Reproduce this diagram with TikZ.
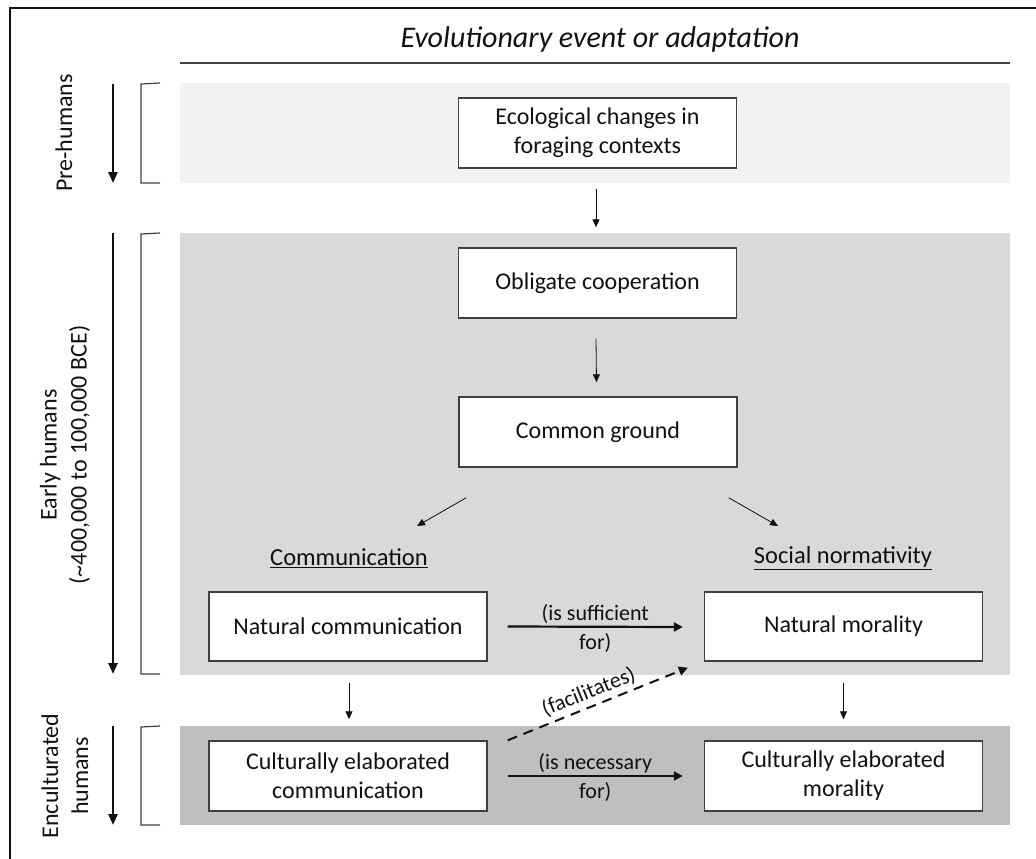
\documentclass[tikz,border=0pt]{standalone}
\usepackage{fontspec}
\setmainfont{Carlito}
\usetikzlibrary{arrows.meta}
\definecolor{bandA}{HTML}{F2F2F2}
\definecolor{bandB}{HTML}{D9D9D9}
\definecolor{bandC}{HTML}{BFBFBF}
\definecolor{edge}{HTML}{404040}
\definecolor{ink}{HTML}{111111}
\begin{document}
\begin{tikzpicture}[x=1pt,y=-1pt,
  box/.style={draw=edge, fill=white, line width=1.4pt, minimum width=278pt, minimum height=70pt,
    align=center, inner sep=0pt, text=ink, font=\fontsize{24}{29}\selectfont},
  headlbl/.style={inner sep=0pt, text=ink, font=\fontsize{24.5}{29}\selectfont},
  sidelbl/.style={inner sep=0pt, rotate=90, align=center, text=ink, font=\fontsize{24}{30}\selectfont},
  edgelbl/.style={inner sep=0pt, align=center, text=ink, font=\fontsize{22}{29}\selectfont},
  thinarr/.style={draw=ink, line width=0.8pt, -{Triangle[length=8pt,width=7pt]}},
  thickarr/.style={draw=ink, line width=2.2pt, -{Triangle[length=9pt,width=9pt]}},
  timearr/.style={draw=ink, line width=2.5pt, -{Triangle[length=11pt,width=9pt]}},
  dasharr/.style={draw=ink, line width=2pt, dash pattern=on 10pt off 7pt, -{Triangle[length=9pt,width=9pt]}},
  brack/.style={draw=edge, line width=1.2pt}
]
\useasboundingbox (0,0) rectangle (1036,859);
% outer frame
\draw[line width=1.5pt, ink] (10,859) -- (10,8) -- (1036,8);
% header
\node[inner sep=0pt, text=ink, font=\fontsize{30}{36}\selectfont\itshape] (head) at (600,40) {Evolutionary event or adaptation};
\draw[line width=2pt, edge] (180,63) -- (1010,63);
% bands
\fill[bandA] (180,83) rectangle (1010,183);
\fill[bandB] (180,233) rectangle (1010,675);
\fill[bandC] (180,726) rectangle (1010,825);
% left labels, arrows and brackets
\node[sidelbl] (pre) at (64,133) {Pre-humans};
\node[sidelbl] (early) at (65,455) {Early humans\\(\textasciitilde400,000 to 100,000 BCE)};
\node[sidelbl] (encult) at (65,776) {Enculturated\\humans};
\coordinate (preA) at (113,84);  \coordinate (preB) at (113,183);
\coordinate (earA) at (113,233); \coordinate (earB) at (113,674);
\coordinate (encA) at (113,726); \coordinate (encB) at (113,825);
\draw[timearr] (preA) -- (preB);
\draw[timearr] (earA) -- (earB);
\draw[timearr] (encA) -- (encB);
\draw[brack] (160,83) -- (141,84) -- (141,183) -- (160,183);
\draw[brack] (160,233) -- (141,234) -- (141,674) -- (160,674);
\draw[brack] (160,726) -- (141,727) -- (141,825) -- (160,825);
% boxes
\node[box] (eco) at (597.5,133) {Ecological changes in\\foraging contexts};
\node[box] (obl) at (597.5,283) {Obligate cooperation};
\node[box] (cg) at (598,432) {Common ground};
\node[headlbl] (comm) at (349,558) {\underline{Communication}};
\node[headlbl] (norm) at (843,558) {\underline{Social normativity}};
\node[box, minimum height=69pt] (ncomm) at (348,626.5) {Natural communication};
\node[box, minimum height=69pt] (nmor) at (843.5,626.5) {Natural morality};
\node[box] (ccomm) at (348,776) {Culturally elaborated\\communication};
\node[box] (cmor) at (843.5,776) {Culturally elaborated\\morality};
% connectors
\draw[thinarr] ([xshift=-1.5pt,yshift=-20pt]eco.south) -- ([xshift=-1.5pt,yshift=20pt]obl.north);
\draw[thinarr] ([xshift=-1.5pt,yshift=-20pt]obl.south) -- ([xshift=-1.5pt,yshift=14pt]cg.north);
\draw[thinarr] ([xshift=8pt,yshift=-30pt]cg.south west) -- ([xshift=68pt,yshift=32pt]comm.center);
\draw[thinarr] ([xshift=-9pt,yshift=-30pt]cg.south east) -- ([xshift=-65pt,yshift=32pt]norm.center);
\draw[thinarr] ([xshift=1pt,yshift=-21pt]ncomm.south) -- ([xshift=1pt,yshift=21pt]ccomm.north);
\draw[thinarr] ([yshift=-21pt]nmor.south) -- ([yshift=21pt]cmor.north);
\draw[thickarr] ([xshift=20pt]ncomm.east) -- ([xshift=-21pt,yshift=-0.5pt]nmor.west)
  node[edgelbl, pos=0.5, yshift=-1.5pt] {(is sufficient\\for)};
\draw[thickarr] ([xshift=20pt]ccomm.east) -- ([xshift=-21pt]cmor.west)
  node[edgelbl, pos=0.5, yshift=-1.5pt] {(is necessary\\for)};
\draw[dasharr] ([xshift=20pt]ccomm.north east) -- ([xshift=-16pt,yshift=-6pt]nmor.south west)
  node[edgelbl, pos=0.48, sloped, above=4pt] {(facilitates)};
\end{tikzpicture}
\end{document}
